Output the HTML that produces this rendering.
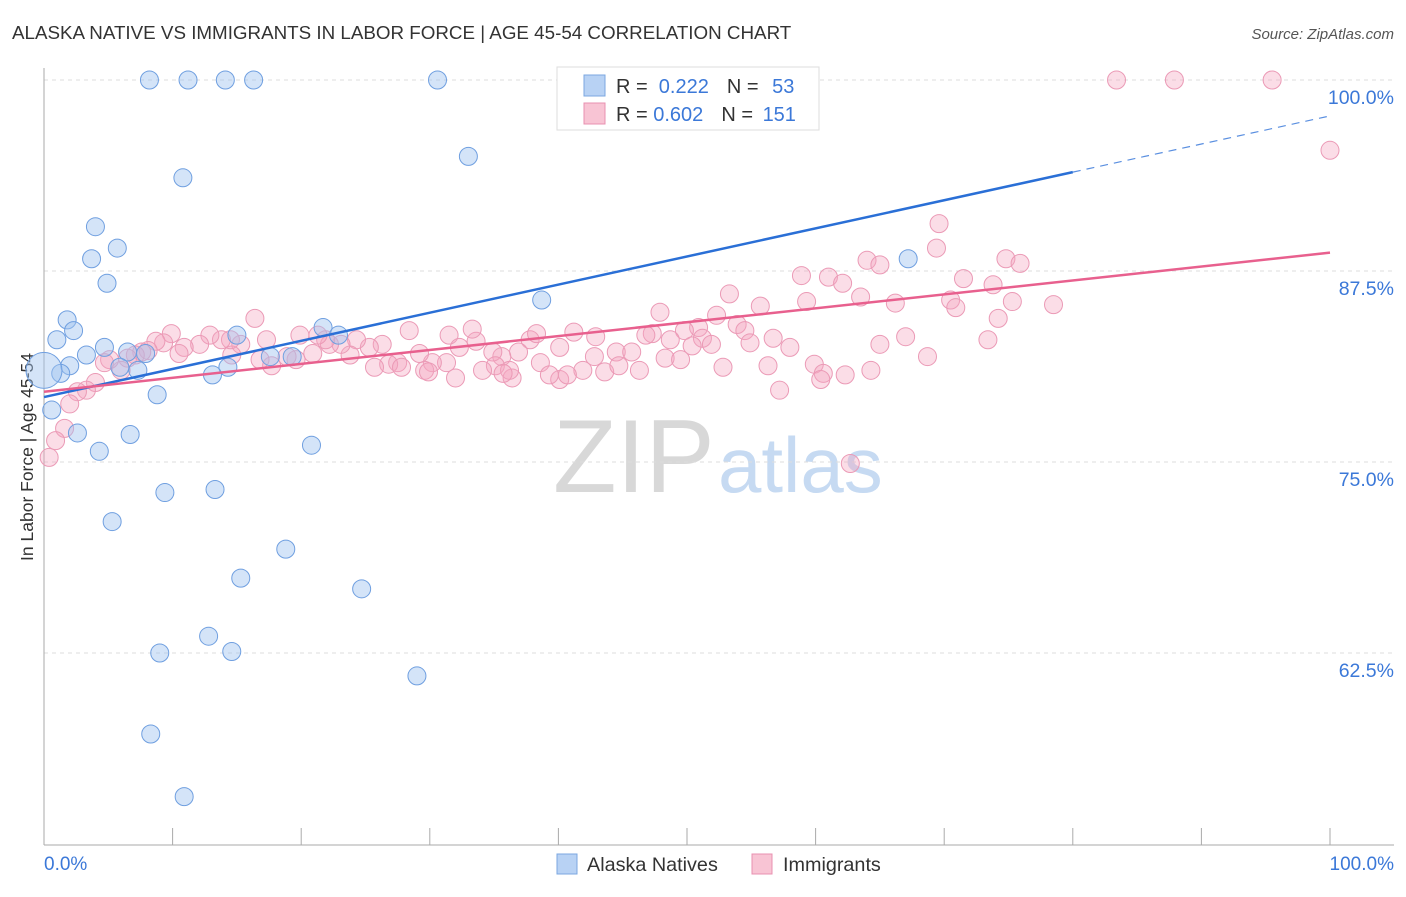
<!DOCTYPE html>
<html><head><meta charset="utf-8">
<style>
body{margin:0;background:#fff;font-family:"Liberation Sans",sans-serif;}
svg text{font-family:"Liberation Sans",sans-serif;}
</style></head>
<body>
<svg id="chart" width="1406" height="892" xmlns="http://www.w3.org/2000/svg">
<text x="12" y="39" font-size="18.8" fill="#333">ALASKA NATIVE VS IMMIGRANTS IN LABOR FORCE | AGE 45-54 CORRELATION CHART</text>
<text x="1394" y="39" font-size="15" fill="#555" font-style="italic" text-anchor="end">Source: ZipAtlas.com</text>
<text transform="translate(33,457) rotate(-90)" font-size="17.5" fill="#333" text-anchor="middle">In Labor Force | Age 45-54</text>
<g>
<text x="553" y="492" font-size="104" fill="#d8d8d8" font-family="Liberation Serif">ZIP</text>
<text x="718" y="492" font-size="78" fill="#c6daf2">atlas</text>
</g>
<g id="grid"></g>
<g id="axes"></g>
<g id="points"></g>
<g id="lines"></g>
<g>
<rect x="557" y="67" width="262" height="63" fill="#fff" stroke="#ddd"/>
<rect x="584" y="75" width="21" height="21" fill="#b8d2f4" stroke="#7ba7e0"/>
<rect x="584" y="103" width="21" height="21" fill="#f8c4d4" stroke="#e890b0"/>
<text x="616" y="93" font-size="20" fill="#333">R = <tspan fill="#3b78d8">&#160;0.222</tspan><tspan dx="18">N = </tspan><tspan fill="#3b78d8" dx="8">53</tspan></text>
<text x="616" y="121" font-size="20" fill="#333">R = <tspan fill="#3b78d8">0.602</tspan><tspan dx="18">N = </tspan><tspan fill="#3b78d8" dx="4">151</tspan></text>
</g>
<g>
<rect x="557" y="854" width="20" height="20" fill="#b8d2f4" stroke="#7ba7e0"/>
<text x="587" y="871" font-size="19.8" fill="#333">Alaska Natives</text>
<rect x="752" y="854" width="20" height="20" fill="#f8c4d4" stroke="#e890b0"/>
<text x="783" y="871" font-size="19.8" fill="#333">Immigrants</text>
</g>
</svg>
<script>
const yTicks=[100,87.5,75,62.5];
const yTickLabels=["100.0%","87.5%","75.0%","62.5%"];
const xTickLabels=["0.0%","100.0%"];
const blueX=[8.2,11.2,14.1,16.3,30.6,33.0,10.8,4.0,5.7,3.7,4.9,38.7,1.8,2.3,1.0,15.0,21.7,22.9,4.7,3.3,6.5,7.9,2.0,5.9,7.3,17.6,19.3,14.3,13.1,8.8,0.6,2.6,6.7,4.3,20.8,9.4,13.3,5.3,18.8,15.3,24.7,12.8,9.0,14.6,29.0,8.3,10.9,67.2,1.3,0.0];
const blueY=[100,100,100,100,100,95.0,93.6,90.4,89.0,88.3,86.7,85.6,84.3,83.6,83.0,83.3,83.8,83.3,82.5,82.0,82.2,82.1,81.3,81.2,81.0,81.9,81.9,81.2,80.7,79.4,78.4,76.9,76.8,75.7,76.1,73.0,73.2,71.1,69.3,67.4,66.7,63.6,62.5,62.6,61.0,57.2,53.1,88.3,80.8,81.0];
const blueR=[9,9,9,9,9,9,9,9,9,9,9,9,9,9,9,9,9,9,9,9,9,9,9,9,9,9,9,9,9,9,9,9,9,9,9,9,9,9,9,9,9,9,9,9,9,9,9,9,9,18];
const pinkX=[83.4,87.9,95.5,100,69.6,69.4,74.8,75.9,58.9,61.0,64.0,65.0,71.5,73.8,62.1,63.5,66.2,70.5,70.9,75.3,78.5,53.3,59.3,55.7,47.9,52.3,53.9,54.5,54.9,56.7,58.0,50.9,49.8,51.2,51.9,47.3,46.8,48.7,48.3,50.4,49.5,52.8,56.3,59.9,60.6,60.4,62.3,64.3,65.0,67.0,68.7,73.4,74.2,57.2,62.7,41.2,42.9,42.8,44.5,45.7,43.6,46.3,44.7,40.1,38.6,37.8,38.3,36.9,35.6,34.9,35.1,33.6,33.3,31.5,32.3,31.3,30.2,29.6,29.2,28.4,27.5,26.3,25.3,26.8,25.7,24.3,23.8,23.1,22.2,21.9,21.3,19.9,20.9,19.6,18.9,17.7,17.3,16.4,16.8,15.3,14.6,14.5,13.8,12.9,12.1,10.9,10.5,9.9,9.3,8.7,8.1,7.6,7.1,6.5,6.0,5.1,4.7,4.0,3.3,2.6,2.0,1.6,0.9,0.4,40.1,41.9,36.4,36.2,32.0,29.9,35.7,39.3,40.7,34.1,27.8];
const pinkY=[100,100,100,95.4,90.6,89.0,88.3,88.0,87.2,87.1,88.2,87.9,87.0,86.6,86.7,85.8,85.4,85.6,85.1,85.5,85.3,86.0,85.5,85.2,84.8,84.6,84.0,83.6,82.8,83.1,82.5,83.8,83.6,83.1,82.7,83.4,83.3,83.0,81.8,82.6,81.7,81.2,81.3,81.4,80.8,80.4,80.7,81.0,82.7,83.2,81.9,83.0,84.4,79.7,74.9,83.5,83.2,81.9,82.2,82.2,80.9,81.0,81.3,82.5,81.5,83.0,83.4,82.2,81.9,82.2,81.3,82.9,83.7,83.3,82.5,81.5,81.5,81.0,82.1,83.6,81.5,82.7,82.5,81.4,81.2,83.0,82.0,82.7,82.7,83.0,83.3,83.3,82.1,81.7,81.9,81.3,83.0,84.4,81.7,82.7,82.0,83.0,83.0,83.3,82.7,82.5,82.1,83.4,82.8,82.9,82.3,82.2,82.0,81.8,81.0,81.7,81.5,80.2,79.7,79.6,78.8,77.2,76.4,75.3,80.4,81.0,80.5,81.0,80.5,80.9,80.8,80.7,80.7,81.0,81.2];
const blueTrend=[79.25,0.184];
const pinkTrend=[79.6,0.091];

const NS="http://www.w3.org/2000/svg";
const X0=44,X1=1330,YTOP=80,PXPER=15.28;
function sx(v){return X0+(X1-X0)*v/100;}
function sy(v){return YTOP+(100-v)*PXPER;}
function mk(tag,attrs,parent){const e=document.createElementNS(NS,tag);for(const k in attrs)e.setAttribute(k,attrs[k]);parent.appendChild(e);return e;}
const grid=document.getElementById('grid'),axes=document.getElementById('axes'),pts=document.getElementById('points'),lines=document.getElementById('lines');
yTicks.forEach((t,i)=>{
  const l=mk('line',{x1:X0,x2:1394,y1:sy(t),y2:sy(t),stroke:'#ddd','stroke-dasharray':'4,4'},grid);
  
  
  const tx=mk('text',{x:1394,y:sy(t)+24,'font-size':19.5,fill:'#3b78d8','text-anchor':'end'},axes);
  tx.textContent=yTickLabels[i];
  
  
});
const ax=mk('line',{x1:X0,x2:1394,y1:845,y2:845,stroke:'#aaa'},axes);


const ay=mk('line',{x1:X0,x2:X0,y1:68,y2:845,stroke:'#aaa'},axes);


for(let i=0;i<=10;i++){
  const t=mk('line',{x1:sx(i*10),x2:sx(i*10),y1:828,y2:845,stroke:'#aaa'},axes);
  
  
}
const xl0=mk('text',{x:44,y:870,'font-size':19,fill:'#3b78d8'},axes);xl0.textContent=xTickLabels[0];


const xl1=mk('text',{x:1394,y:870,'font-size':19,fill:'#3b78d8','text-anchor':'end'},axes);xl1.textContent=xTickLabels[1];


pinkX.forEach((v,i)=>{
  const c=mk('circle',{cx:sx(v),cy:sy(pinkY[i]),r:9,fill:'rgba(245,165,192,0.38)',stroke:'#eb9ab6','stroke-width':1},pts);
  
  
});
blueX.forEach((v,i)=>{
  const c=mk('circle',{cx:sx(v),cy:sy(blueY[i]),r:blueR[i],fill:'rgba(160,196,240,0.45)',stroke:'#6f9fe0','stroke-width':1},pts);
  
  
});
function ty(tr,x){return tr[0]+tr[1]*x;}
const bl=mk('line',{x1:sx(0),y1:sy(ty(blueTrend,0)),x2:sx(80),y2:sy(ty(blueTrend,80)),stroke:'#2a6fd6','stroke-width':2.5},lines);


const bd=mk('line',{x1:sx(80),y1:sy(ty(blueTrend,80)),x2:sx(100),y2:sy(ty(blueTrend,100)),stroke:'#5a8fe0','stroke-width':1.2,'stroke-dasharray':'8,6'},lines);


const pl=mk('line',{x1:sx(0),y1:sy(ty(pinkTrend,0)),x2:sx(100),y2:sy(ty(pinkTrend,100)),stroke:'#e8608e','stroke-width':2.5},lines);


</script>
</body></html>
